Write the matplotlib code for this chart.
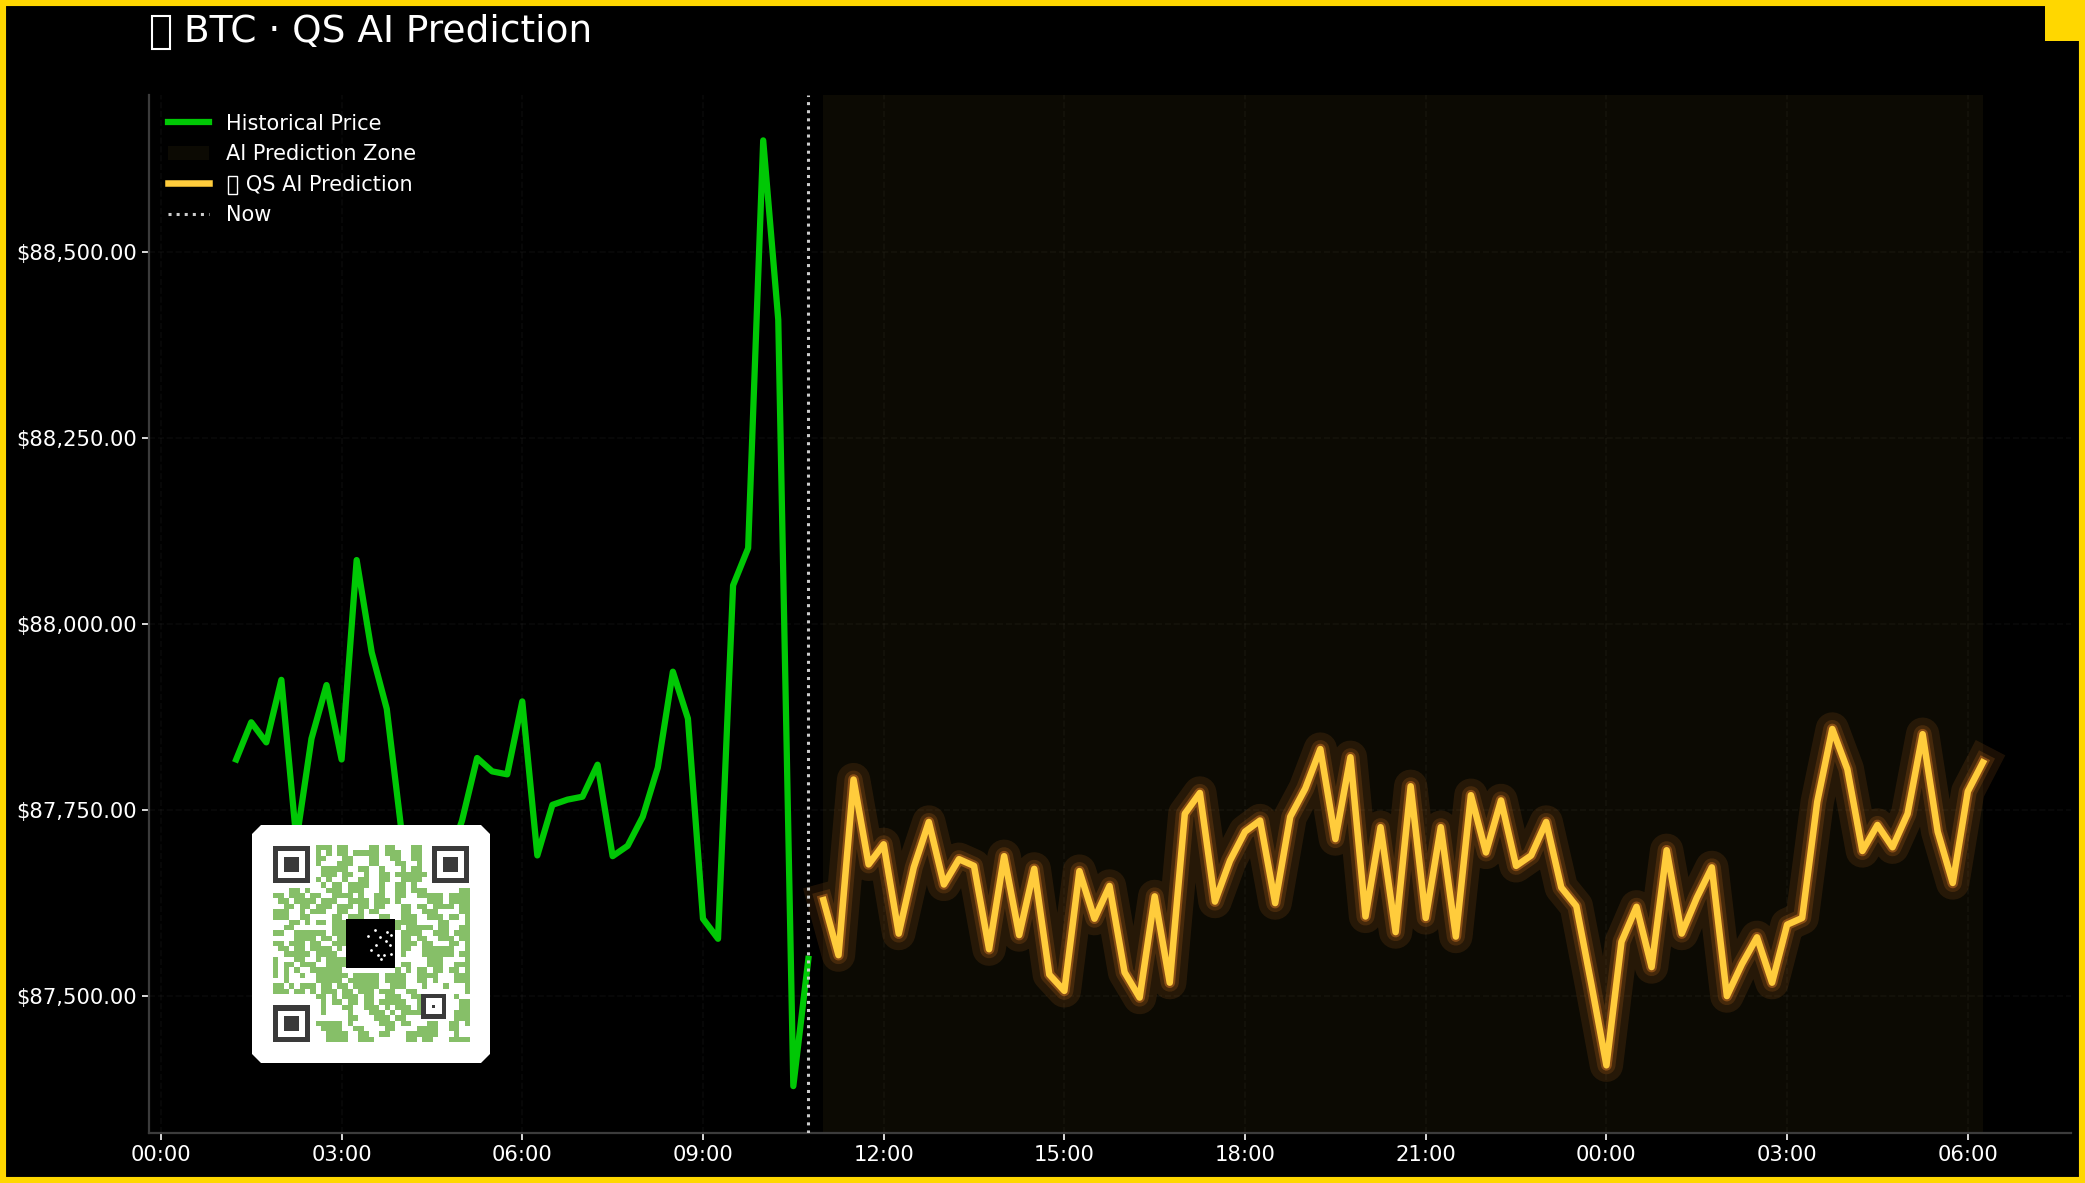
import matplotlib
matplotlib.use("Agg")
import matplotlib.pyplot as plt
from matplotlib.colors import ListedColormap
from matplotlib.patches import Polygon, Rectangle
from matplotlib.ticker import FuncFormatter
import numpy as np

# prices, one every 15 minutes
hist_start = 1.25
hist_price = [87818, 87868, 87841, 87925, 87709, 87846, 87918, 87818, 88086, 87962,
              87886, 87718, 87677, 87650, 87677, 87736, 87820, 87802, 87798, 87896,
              87689, 87757, 87764, 87768, 87811, 87688, 87702, 87741, 87807, 87936,
              87873, 87604, 87577, 88052, 88102, 88650, 88409, 87379, 87550]
pred_start = 11.0
pred_price = [87629, 87555, 87791, 87677, 87704, 87584, 87673, 87734, 87650, 87684,
              87675, 87563, 87688, 87582, 87671, 87529, 87507, 87668, 87604, 87648,
              87532, 87498, 87634, 87518, 87745, 87773, 87627, 87682, 87721, 87736,
              87625, 87741, 87779, 87832, 87711, 87821, 87607, 87727, 87586, 87782,
              87605, 87727, 87580, 87770, 87693, 87763, 87675, 87689, 87734, 87646,
              87621, 87516, 87407, 87573, 87620, 87539, 87696, 87584, 87632, 87673,
              87500, 87543, 87579, 87518, 87596, 87605, 87761, 87859, 87805, 87695,
              87730, 87700, 87745, 87852, 87721, 87652, 87775, 87814]
now_hour = 10.75
xticks = [0, 3, 6, 9, 12, 15, 18, 21, 24, 27, 30]
xlabels = ['00:00', '03:00', '06:00', '09:00', '12:00', '15:00', '18:00', '21:00', '00:00', '03:00', '06:00']
yticks = [87500, 87750, 88000, 88250, 88500]

# qr modules copied by eye, finder squares and logo are drawn over them
qr_rows = [
    "........###.##....##.##...##",
    "........#.#.##.#####.###..##",
    "........##...##...##..##..##",
    "........#...###...##...##..#",
    ".........#####..##..#...#.##",
    ".........###.##..#..##.######",
    "........#.#..#..##..##..####",
    ".........#.##.####..#..##.#",
    "...##.#...###.###...#..##.###......##",
    "##.###.##..####.#..##..##..#####.####",
    ".##.####.###..####.###.#.....###.####",
    "..##.##.###.###.##.##...##.##.####.##",
    "###..#.###..##..#.##....##..###....##",
    "###..##....##.###...##..###..###.##.#",
    "...##.#.##.###.........####....##...#",
    "..##.......###.........#.#####.##..##",
    "##..######.###..........####..###.###",
    "....####.##.##..........##.##..###.##",
    "##.###.##..###..........###.##...##.#",
    ".##.##.####.#...........##..######..#",
    "..#####.####............#...######.##",
    "#...##..#.####...............###....#",
    "#.##.###..####..........##...###..###",
    "#.#.#..######..........#.#.##.##.##.#",
    "#.#..#..######.#####.####..####...###",
    "..#.....#####.######.####..##.#...###",
    "##.#.###.##.##.#####..###...#...#...#",
    "###.##.#.###.##.###.###..##.........#",
    "........##.#.###.##..###..##......#..",
    ".........#.##.##.##.#####..#.......##",
    ".........#...##..###.#.###.#.......##",
    ".........#....#...###.#.####......###",
    "..............##...###.##.........###",
    "........#####.#.....###.##...##..##.#",
    ".........####..##....##....####..##..",
    "..........####..##..##...######...#..",
    "..........####..###......##.##...####",
]
logo_x = [18.0, 19.3, 20.3, 21.5, 22.3, 18.5, 19.5, 21.3, 22.0, 19.8, 21.0, 20.4, 22.2]
logo_y = [17.0, 15.8, 17.2, 16.2, 16.8, 19.6, 18.6, 17.8, 18.6, 20.6, 20.6, 21.2, 20.3]

W, H = 2085, 1183
hist_x = hist_start + np.arange(len(hist_price)) * 0.25
pred_x = pred_start + np.arange(len(pred_price)) * 0.25

fig = plt.figure(figsize=(W / 100, H / 100), dpi=100, facecolor='black')
L, R, T, B = 149, 2071, 95, 1133
ax = fig.add_axes([L / W, 1 - B / H, (R - L) / W, (B - T) / H], facecolor='black')

ax.plot(hist_x, hist_price, color='#00c805', lw=4.5, label='Historical Price', zorder=3)
ax.axvspan(pred_x[0], pred_x[-1], color='#ffd23f', alpha=0.05, lw=0, label='AI Prediction Zone', zorder=1)
for w, a in [(24, 0.11), (13, 0.15), (7.7, 0.36)]:
    ax.plot(pred_x, pred_price, color='#ff8f28', lw=w, alpha=a, zorder=2, solid_joinstyle='round')
ax.plot(pred_x, pred_price, color='#ffcc3c', lw=4.7, label='   QS AI Prediction', zorder=4, solid_joinstyle='round')
ax.axvline(now_hour, color='#cccccc', lw=2.2, ls=':', label='Now', zorder=5)

ax.set_xlim((L - 160.9) / 60.23, (R - 160.9) / 60.23)
ax.set_ylim(87316, 88711)
ax.set_xticks(xticks)
ax.set_xticklabels(xlabels)
ax.set_yticks(yticks)
ax.yaxis.set_major_formatter(FuncFormatter(lambda v, p: f'${v:,.2f}'))
ax.tick_params(colors='white', labelsize=15.2, length=5, width=1.2)
ax.grid(True, color='#ffffff', alpha=0.04, ls='--', lw=1.2)
ax.set_axisbelow(True)
for s in ['top', 'right']:
    ax.spines[s].set_visible(False)
for s in ['left', 'bottom']:
    ax.spines[s].set_color('#3c3c3c')
    ax.spines[s].set_linewidth(1.6)

ax.legend(loc='upper left', frameon=False, fontsize=15, labelcolor='white', borderaxespad=0.5, handlelength=2)

fig.text(183.5 / W, 1 - 32 / H, 'BTC \u00b7 QS AI Prediction', color='white', fontsize=27, va='center', ha='left')

# the emoji has no glyph in any font, the reference shows an empty box
fig.add_artist(Rectangle((151.5 / W, 1 - 49 / H), 18 / W, 33 / H, transform=fig.transFigure, fill=False, ec='white', lw=1.5))
fig.add_artist(Rectangle((227.5 / W, 1 - 194 / H), 9.5 / W, 18 / H, transform=fig.transFigure, fill=False, ec='white', lw=1.0))

# qr code panel, axes in picture pixels
qr = fig.add_axes([252 / W, 1 - 1063 / H, 238 / W, 238 / H], zorder=10)
qr.axis('off')
c = 9
qr.add_patch(Polygon([(252 + c, 825), (490 - c, 825), (490, 825 + c), (490, 1063 - c),
                      (490 - c, 1063), (252 + c, 1063), (252, 1063 - c), (252, 825 + c)], fc='white', ec='none'))
mods = np.array([[ch == '#' for ch in r.ljust(37, '.')[:37]] for r in qr_rows], dtype=float)
x0, y0, m = 272.7, 846, 5.31
qr.imshow(mods, cmap=ListedColormap(['#ffffff', '#86bf68']), vmin=0, vmax=1, interpolation='antialiased',
          extent=[x0, x0 + 37 * m, y0 + 37 * m, y0], aspect='auto', zorder=2)
qr.set_xlim(252, 490)
qr.set_ylim(1063, 825)

dark = '#3a3a3a'
for col, row in [(0, 0), (30, 0), (0, 30)]:
    qr.add_patch(Rectangle((x0 + col * m, y0 + row * m), 7 * m, 7 * m, fc=dark, ec='none', zorder=3))
    qr.add_patch(Rectangle((x0 + (col + 1) * m, y0 + (row + 1) * m), 5 * m, 5 * m, fc='white', ec='none', zorder=3))
    qr.add_patch(Rectangle((x0 + (col + 2.1) * m, y0 + (row + 2.1) * m), 2.8 * m, 2.8 * m, fc=dark, ec='none', zorder=3))
qr.add_patch(Rectangle((x0 + 28 * m, y0 + 27.9 * m), 4.6 * m, 4.6 * m, fc=dark, ec='none', zorder=3))
qr.add_patch(Rectangle((x0 + 28.8 * m, y0 + 28.7 * m), 3 * m, 3 * m, fc='white', ec='none', zorder=3))
qr.add_patch(Rectangle((x0 + 29.95 * m, y0 + 29.85 * m), 0.7 * m, 0.7 * m, fc=dark, ec='none', zorder=3))

# black logo in the middle
qr.add_patch(Rectangle((x0 + 13.75 * m, y0 + 13.7 * m), 9.35 * m, 9.35 * m, fc='black', ec='none', zorder=4))
qr.scatter([x0 + v * m for v in logo_x], [y0 + v * m for v in logo_y], s=4, c='white', lw=0, zorder=5)

# border and corner block
fig.add_artist(Rectangle((3 / W, 3 / H), (W - 6) / W, (H - 6) / H, transform=fig.transFigure, fill=False, ec='#ffd700', lw=4.4))
fig.add_artist(Rectangle((2045 / W, 1 - 41 / H), 40 / W, 41 / H, transform=fig.transFigure, fc='#ffd700', ec='none'))

fig.savefig('out.png', dpi=100, facecolor='black')
